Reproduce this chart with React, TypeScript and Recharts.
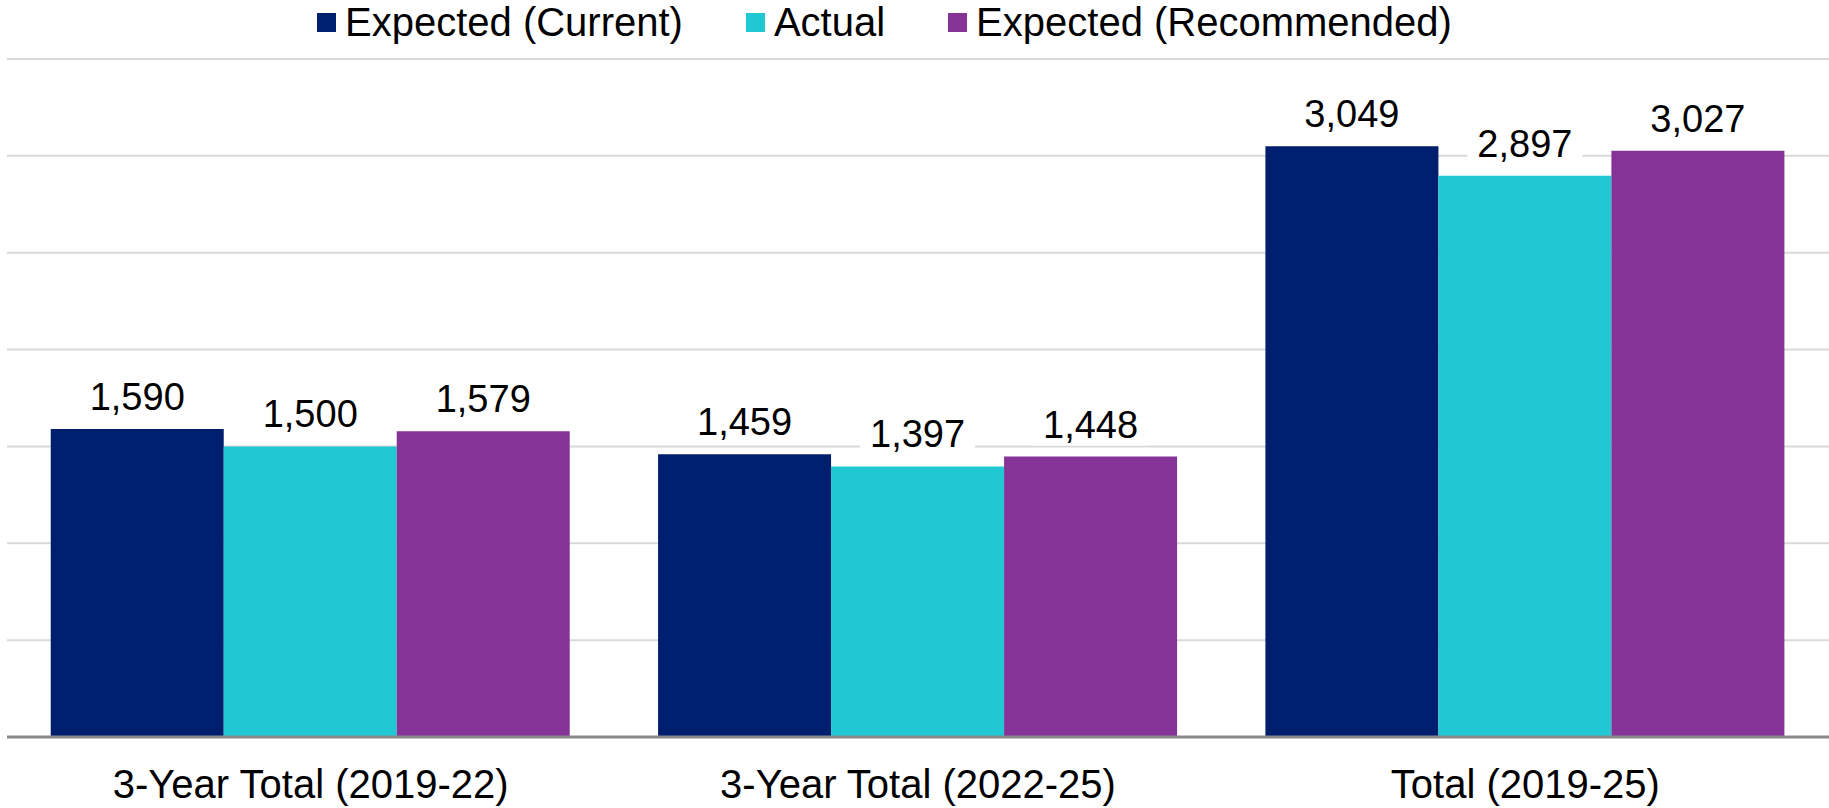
import { BarChart, Bar, XAxis, YAxis, CartesianGrid, Legend, LabelList } from 'recharts';

const categories = ['3-Year Total (2019-22)', '3-Year Total (2022-25)', 'Total (2019-25)'];
const expectedCurrent = [1590, 1459, 3049];
const actual = [1500, 1397, 2897];
const expectedRecommended = [1579, 1448, 3027];
const yTicks = [0, 500, 1000, 1500, 2000, 2500, 3000, 3500];

const series = [
  { key: 'current', name: 'Expected (Current)', color: '#001e6e' },
  { key: 'actual', name: 'Actual', color: '#1fc8d2' },
  { key: 'recommended', name: 'Expected (Recommended)', color: '#853397' },
];

const data = categories.map((name, i) => ({
  name,
  current: expectedCurrent[i],
  actual: actual[i],
  recommended: expectedRecommended[i],
}));

const FONT = '"Liberation Sans", Arial, sans-serif';
const LABEL_FS = 38;
const AXIS_FS = 40;

const fmt = (v: number) => v.toLocaleString('en-US');

// rough Arial width so the white box behind the label hides the gridline
const textWidth = (s: string) =>
  s.split('').reduce((w, c) => w + (c === ',' ? 0.278 : 0.556), 0) * LABEL_FS;

const ValueLabel = (props: any) => {
  const { x, y, width, value } = props;
  const s = fmt(value);
  const cx = x + width / 2;
  const tw = textWidth(s) + 20;
  const base = y - 19;
  return (
    <g>
      <rect x={cx - tw / 2} y={base - LABEL_FS * 0.8} width={tw} height={LABEL_FS * 0.8 + 8} fill="#fff" />
      <text x={cx} y={base} textAnchor="middle" fontSize={LABEL_FS} fontFamily={FONT} fill="#000">
        {s}
      </text>
    </g>
  );
};

const LegendContent = () => (
  <div
    style={{
      display: 'flex',
      alignItems: 'center',
      paddingLeft: 317,
      height: 59,
      boxSizing: 'border-box',
      paddingBottom: 14,
      fontFamily: FONT,
      fontSize: AXIS_FS,
      color: '#000',
    }}
  >
    {series.map((s, i) => (
      <div key={s.key} style={{ display: 'flex', alignItems: 'center', marginRight: i < 2 ? 63 : 0 }}>
        <span style={{ width: 19, height: 19, background: s.color, marginRight: 9, display: 'inline-block' }} />
        <span style={{ whiteSpace: 'nowrap' }}>{s.name}</span>
      </div>
    ))}
  </div>
);

export default function App() {
  return (
    <div style={{ position: 'absolute', left: 0, top: 0, width: 1829, height: 808, background: '#fff' }}>
      <BarChart
        width={1829}
        height={808}
        data={data}
        margin={{ top: 0, right: 0, bottom: 0, left: 7 }}
        barCategoryGap="7.2%"
        barGap={0}
      >
        <CartesianGrid vertical={false} stroke="#d9d9d9" strokeWidth={2} />
        <Legend verticalAlign="top" wrapperStyle={{ left: 0, width: 1829, top: 0 }} content={<LegendContent />} />
        <XAxis
          dataKey="name"
          axisLine={{ stroke: '#898989', strokeWidth: 3 }}
          tickLine={false}
          tickSize={0}
          tickMargin={33}
          height={71}
          tick={{ fontSize: AXIS_FS, fontFamily: FONT, fill: '#000' }}
          interval={0}
        />
        <YAxis hide domain={[0, 3500]} ticks={yTicks} />
        {series.map((s) => (
          <Bar key={s.key} dataKey={s.key} name={s.name} fill={s.color} isAnimationActive={false}>
            <LabelList dataKey={s.key} content={<ValueLabel />} />
          </Bar>
        ))}
      </BarChart>
    </div>
  );
}
